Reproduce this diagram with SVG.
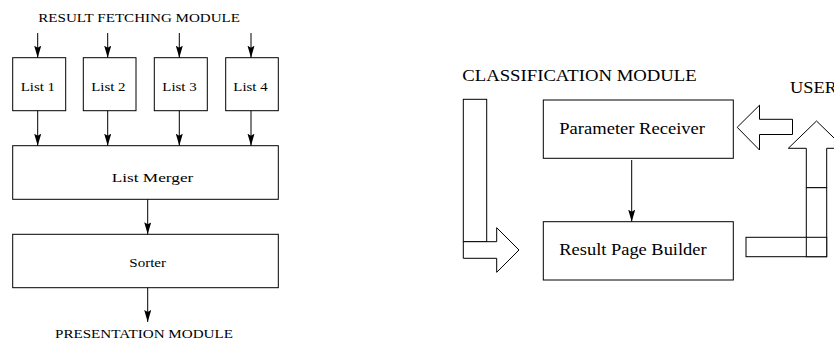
<svg xmlns="http://www.w3.org/2000/svg" width="834" height="341" viewBox="0 0 834 341">
<style>
.box{fill:#fff;stroke:#000;stroke-width:1}
.ln{fill:none;stroke:#000;stroke-width:1;marker-end:url(#ah)}
.bl{fill:#fff;stroke:#000;stroke-width:1;stroke-linejoin:miter}
.t{font-family:"Liberation Serif","Times New Roman",serif;font-size:13px;fill:#000}
.tr{font-family:"Liberation Serif","Times New Roman",serif;font-size:17.5px;fill:#000}
</style>
<defs>
<marker id="ah" markerUnits="userSpaceOnUse" markerWidth="14" markerHeight="8" refX="12" refY="3.5" orient="auto">
<path d="M0,0 L12,3.5 L0,7 L2,3.5 z" fill="#000"/>
</marker>
</defs>
<rect width="834" height="341" fill="#fff"/>
<text class="t" x="38.3" y="21.7" textLength="201.7" lengthAdjust="spacingAndGlyphs">RESULT FETCHING MODULE</text>
<text class="t" x="55" y="338" textLength="178" lengthAdjust="spacingAndGlyphs">PRESENTATION MODULE</text>
<text class="tr" x="462.3" y="81" textLength="234.4" lengthAdjust="spacingAndGlyphs">CLASSIFICATION MODULE</text>
<text class="tr" x="790" y="93.3" textLength="47" lengthAdjust="spacingAndGlyphs">USER</text>
<g id="list1"><rect class="box" x="12.7" y="57.7" width="53" height="53"/><text class="t" x="20.7" y="91" textLength="34.3" lengthAdjust="spacingAndGlyphs">List 1</text></g>
<g id="list2"><rect class="box" x="83.3" y="57.7" width="52.7" height="53"/><text class="t" x="91.2" y="91" textLength="34.3" lengthAdjust="spacingAndGlyphs">List 2</text></g>
<g id="list3"><rect class="box" x="154.3" y="57.7" width="53" height="53"/><text class="t" x="162.3" y="91" textLength="34.3" lengthAdjust="spacingAndGlyphs">List 3</text></g>
<g id="list4"><rect class="box" x="225.7" y="57.7" width="52.6" height="53"/><text class="t" x="233.3" y="91" textLength="34.3" lengthAdjust="spacingAndGlyphs">List 4</text></g>
<g id="merger"><rect class="box" x="12.7" y="145.7" width="265.6" height="53.6"/><text class="t" x="111.7" y="182" textLength="81.6" lengthAdjust="spacingAndGlyphs">List Merger</text></g>
<g id="sorter"><rect class="box" x="12.7" y="234.3" width="265.6" height="53.4"/><text class="t" x="129.3" y="266.7" textLength="36.7" lengthAdjust="spacingAndGlyphs">Sorter</text></g>
<g id="paramrecv"><rect class="box" x="543.3" y="100" width="190" height="58.3"/><text class="tr" x="559.3" y="134" textLength="145.7" lengthAdjust="spacingAndGlyphs">Parameter Receiver</text></g>
<g id="resultpage"><rect class="box" x="543.3" y="221.7" width="190" height="58.3"/><text class="tr" x="559.3" y="255" textLength="147.3" lengthAdjust="spacingAndGlyphs">Result Page Builder</text></g>
<g id="connectors">
<line class="ln" x1="37.7" y1="33" x2="37.7" y2="57.7"/>
<line class="ln" x1="107.7" y1="33" x2="107.7" y2="57.7"/>
<line class="ln" x1="179.3" y1="33" x2="179.3" y2="57.7"/>
<line class="ln" x1="251" y1="33" x2="251" y2="57.7"/>
<line class="ln" x1="37.7" y1="110.7" x2="37.7" y2="145.7"/>
<line class="ln" x1="107.7" y1="110.7" x2="107.7" y2="145.7"/>
<line class="ln" x1="179.3" y1="110.7" x2="179.3" y2="145.7"/>
<line class="ln" x1="251" y1="110.7" x2="251" y2="145.7"/>
<line class="ln" x1="147.7" y1="199.3" x2="147.7" y2="234.3"/>
<line class="ln" x1="147.7" y1="287.7" x2="147.7" y2="322"/>
<line class="ln" x1="631.7" y1="160" x2="631.7" y2="221.7"/>
<rect class="bl" x="463.3" y="99.3" width="23.4" height="142.4"/>
<path class="bl" d="M463.3,241.7 H496.7 V227.7 L519,250 L496.7,272.3 V258.3 H463.3 Z"/>
<path class="bl" d="M792.5,119.3 V134.5 H759.5 V150 L737.2,127.3 L759.5,105.2 V119.3 Z"/>
<path class="bl" d="M806.3,187.7 V148.3 H788.3 L816.5,121 L844.7,148.3 H826.7 V187.7 Z"/>
<rect class="bl" x="806.3" y="187.7" width="20.4" height="69"/>
<rect class="bl" x="746" y="237.3" width="80.7" height="19.4"/>
<line x1="806.3" y1="237.3" x2="806.3" y2="256.7" stroke="#000" stroke-width="1"/>
</g>
</svg>
